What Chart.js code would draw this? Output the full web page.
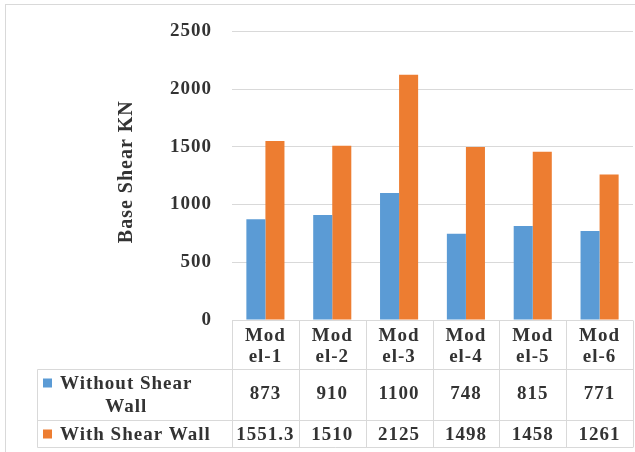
<!DOCTYPE html>
<html lang="en">
<head>
  <meta charset="UTF-8">
  <title>Base Shear KN</title>
  <script src="https://cdn.jsdelivr.net/npm/chart.js"></script>
  <style>
    body {
      margin: 0;
      padding: 0;
      background: #fff;
      overflow: hidden;
    }
    .wrap {
      position: relative;
      width: 635px;
      height: 452px;
    }
  </style>
</head>
<body>
  <div class="wrap"><canvas id="shear-chart"></canvas></div>

  <script>
    // Chart data
    const categories = ['Model-1', 'Model-2', 'Model-3', 'Model-4', 'Model-5', 'Model-6'];
    const seriesNames = ['Without Shear Wall', 'With Shear Wall'];
    const withoutShearWall = [873, 910, 1100, 748, 815, 771];
    const withShearWall = [1551.3, 1510, 2125, 1498, 1458, 1261];
    const yAxisTitle = 'Base Shear KN';

    const BLUE = '#5b9bd5';
    const ORANGE = '#ed7d31';
    const GRID = '#d9d9d9';
    const TEXT = '#333333';
    const FONT = "'Liberation Serif', 'Times New Roman', serif";

    // frame, axis title and the data table under the plot
    const dataTable = {
      id: 'dataTable',
      beforeDraw(chart) {
        const ctx = chart.ctx;
        ctx.save();
        ctx.fillStyle = '#fff';
        ctx.fillRect(0, 0, chart.width, chart.height);
        ctx.strokeStyle = GRID;
        ctx.lineWidth = 1;
        ctx.strokeRect(5.5, 4.5, chart.width + 20, chart.height + 20);
        ctx.restore();
        ctx.letterSpacing = '1px';
      },
      afterDraw(chart) {
        const { ctx, chartArea: area } = chart;
        const n = categories.length;
        const colW = (area.right - area.left) / n;
        const top = Math.round(area.bottom) + 0.5;
        const r1 = top + 49;
        const r2 = r1 + 51;
        const bottom = r2 + 27;
        const tableLeft = 37.5;

        ctx.save();
        ctx.strokeStyle = GRID;
        ctx.lineWidth = 1;
        ctx.beginPath();
        // horizontal rules
        ctx.moveTo(area.left, top); ctx.lineTo(area.right, top);
        [r1, r2, bottom].forEach(y => { ctx.moveTo(tableLeft, y); ctx.lineTo(area.right, y); });
        // vertical rules
        ctx.moveTo(tableLeft, r1); ctx.lineTo(tableLeft, bottom);
        for (let k = 0; k <= n; k++) {
          const x = Math.round(area.left + k * colW) + 0.5;
          ctx.moveTo(x, top); ctx.lineTo(x, bottom);
        }
        ctx.stroke();

        ctx.fillStyle = TEXT;
        ctx.font = `bold 19px ${FONT}`;
        ctx.textAlign = 'center';
        ctx.textBaseline = 'middle';

        // header row, wrapped like the original ("Mod" / "el-1")
        categories.forEach((c, i) => {
          const cx = chart.scales.x.getPixelForTick(i);
          ctx.fillText(c.slice(0, 3), cx, top + 16);
          ctx.fillText(c.slice(3), cx, top + 37);
          ctx.fillText(String(withoutShearWall[i]), cx, r1 + 25);
          ctx.fillText(String(withShearWall[i]), cx, r2 + 15);
        });

        // legend keys + series names
        const rows = [
          { color: BLUE, lines: ['Without Shear', 'Wall'], ys: [r1 + 15, r1 + 38], keyY: r1 + 9 },
          { color: ORANGE, lines: [seriesNames[1]], ys: [r2 + 15], keyY: r2 + 9 }
        ];
        rows.forEach(row => {
          ctx.fillStyle = row.color;
          ctx.fillRect(43, row.keyY, 9, 9);
          ctx.fillStyle = TEXT;
          const w = Math.max(...row.lines.map(l => ctx.measureText(l).width));
          row.lines.forEach((l, j) => ctx.fillText(l, 60 + w / 2, row.ys[j]));
        });

        // y axis title
        ctx.translate(127, (area.top + area.bottom) / 2 - 4);
        ctx.rotate(-Math.PI / 2);
        ctx.font = `bold 20px ${FONT}`;
        ctx.fillText(yAxisTitle, 0, 0);
        ctx.restore();
      }
    };

    new Chart(document.getElementById('shear-chart'), {
      type: 'bar',
      data: {
        labels: categories,
        datasets: [
          { label: seriesNames[0], data: withoutShearWall, backgroundColor: BLUE },
          { label: seriesNames[1], data: withShearWall, backgroundColor: ORANGE }
        ]
      },
      options: {
        responsive: true,
        maintainAspectRatio: false,
        animation: false,
        devicePixelRatio: 1,
        layout: { padding: { top: 27, right: 2, bottom: 132, left: 0 } },
        plugins: {
          legend: { display: false },
          tooltip: { enabled: false }
        },
        datasets: {
          bar: { barPercentage: 1, categoryPercentage: 0.57 }
        },
        scales: {
          x: { display: false },
          y: {
            min: 0,
            max: 2500,
            ticks: {
              stepSize: 500,
              padding: 20,
              color: TEXT,
              font: { family: FONT, size: 19, weight: 'bold' },
              callback: v => String(v)
            },
            grid: { color: GRID, drawTicks: false },
            border: { display: false },
            afterFit(scale) { scale.width = 232; }
          }
        }
      },
      plugins: [dataTable]
    });
  </script>
</body>
</html>
